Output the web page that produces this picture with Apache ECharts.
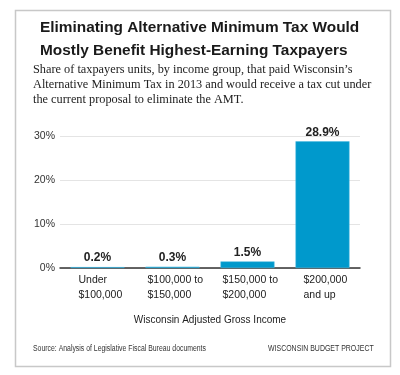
<!DOCTYPE html>
<html>
<head>
<meta charset="utf-8">
<script src="https://cdn.jsdelivr.net/npm/echarts@6/dist/echarts.min.js"></script>
<style>
  html, body { margin: 0; padding: 0; background: #fff; }
  #chart { width: 400px; height: 375px; }
</style>
</head>
<body>
<div id="chart"></div>
<script>
// income groups (Wisconsin AGI)
const categories = [
  ['Under', '$100,000'],
  ['$100,000 to', '$150,000'],
  ['$150,000 to', '$200,000'],
  ['$200,000', 'and up']
];
// share of taxpayer units paying AMT, %
const amtShare = [0.2, 0.3, 1.5, 28.9];
const yTicks = [0, 10, 20, 30];

const titleLines = [
  'Eliminating Alternative Minimum Tax Would',
  'Mostly Benefit Highest-Earning Taxpayers'
];
const subtitleLines = [
  'Share of taxpayers units, by income group, that paid Wisconsin\u2019s',
  'Alternative Minimum Tax in 2013 and would receive a tax cut under',
  'the current proposal to eliminate the AMT.'
];
const xAxisName = 'Wisconsin Adjusted Gross Income';
const sourceText = 'Source: Analysis of Legislative Fiscal Bureau documents';
const creditText = 'WISCONSIN BUDGET PROJECT';

const chart = echarts.init(document.getElementById('chart'), null, { renderer: 'canvas' });

const sans = 'Liberation Sans, Arial, sans-serif';
const serif = 'Liberation Serif, Times New Roman, serif';

const options = {
  backgroundColor: '#fff',
  animation: false,
  grid: {
    left: 60,
    right: 40,
    top: 136.5,
    bottom: 107
  },
  xAxis: {
    type: 'category',
    data: categories.map(c => c.join('\n')),
    name: xAxisName,
    nameLocation: 'middle',
    nameGap: 47,
    nameTextStyle: { fontFamily: sans, fontSize: 10, color: '#222' },
    axisLine: { lineStyle: { color: '#333', width: 1.5 } },
    axisTick: { show: false },
    axisLabel: {
      margin: 5,
      interval: 0,
      formatter(value, index) {
        const key = index === 1 || index === 2 ? 'w' : 'n';
        return value.split('\n').map(s => `{${key}|${s}}`).join('\n');
      },
      rich: {
        n: { width: 44, padding: [0, 0, 0, 6], align: 'left', fontFamily: sans, fontSize: 10.5, color: '#222', lineHeight: 14.5 },
        w: { width: 56, padding: [0, 0, 0, 6], align: 'left', fontFamily: sans, fontSize: 10.5, color: '#222', lineHeight: 14.5 }
      }
    }
  },
  yAxis: {
    type: 'value',
    min: yTicks[0],
    max: yTicks[yTicks.length - 1],
    interval: 10,
    axisLine: { show: false },
    axisTick: { show: false },
    axisLabel: {
      margin: 5,
      fontFamily: sans,
      fontSize: 10.5,
      color: '#333',
      formatter: '{value}%'
    },
    splitLine: { lineStyle: { color: '#e4e4e4', width: 1 } }
  },
  series: [{
    type: 'bar',
    data: amtShare,
    barCategoryGap: '28%',
    itemStyle: { color: '#0099cc', borderColor: '#4db8e0', borderWidth: 0.5 },
    label: {
      show: true,
      position: 'top',
      distance: 3,
      fontFamily: sans,
      fontSize: 12,
      fontWeight: 'bold',
      color: '#222',
      formatter: p => p.value.toFixed(1) + '%'
    }
  }],
  graphic: [
    {
      type: 'rect',
      shape: { x: 15.5, y: 10.5, width: 375, height: 356 },
      style: { fill: 'none', stroke: '#c8c8c8', lineWidth: 1.5 },
      z: -1
    },
    ...titleLines.map((t, i) => ({
      type: 'text',
      left: 40,
      top: 20.5 + i * 23,
      style: { text: t, fontFamily: sans, fontSize: 15.4, fontWeight: 'bold', fill: '#1a1a1a' }
    })),
    ...subtitleLines.map((t, i) => ({
      type: 'text',
      left: 33,
      top: 64 + i * 14.8,
      style: { text: t, fontFamily: serif, fontSize: 12.3, fill: '#222' }
    })),
    {
      type: 'text',
      x: 33,
      y: 344,
      scaleX: 0.81,
      style: { text: sourceText, fontFamily: sans, fontSize: 8.5, fill: '#333' }
    },
    {
      type: 'text',
      x: 268,
      y: 344,
      scaleX: 0.82,
      style: { text: creditText, fontFamily: sans, fontSize: 8.5, fill: '#333' }
    }
  ]
};

chart.setOption(options);
</script>
</body>
</html>
